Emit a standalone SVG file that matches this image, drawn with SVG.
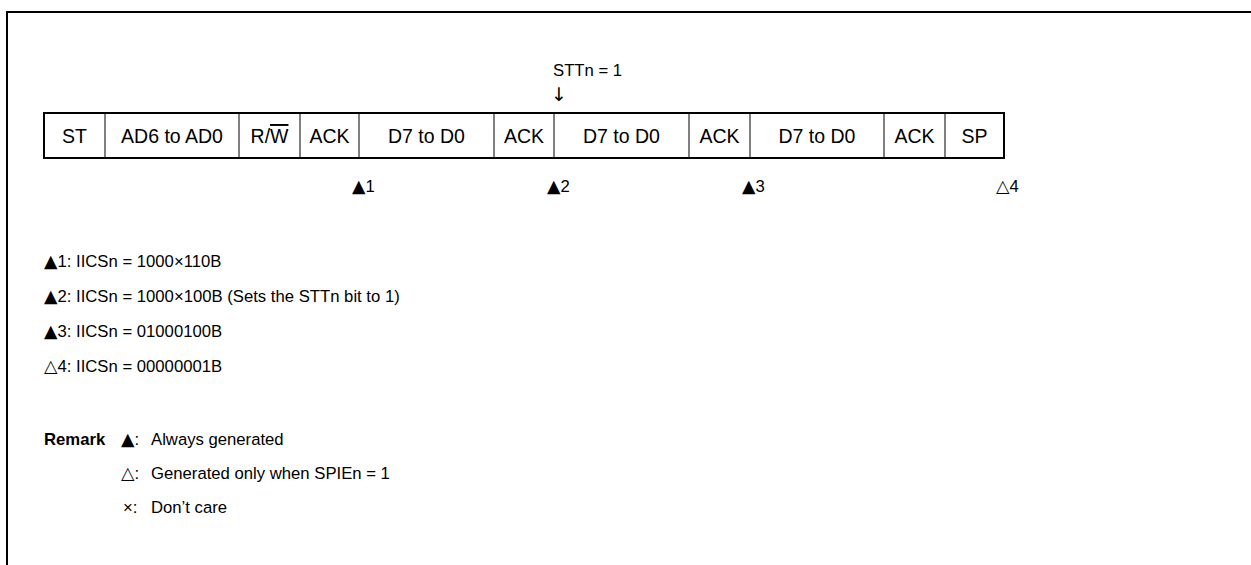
<svg xmlns="http://www.w3.org/2000/svg" width="1251" height="565" viewBox="0 0 1251 565">
<style>
text{font-family:"Liberation Sans",Arial,sans-serif;font-size:16.7px;fill:#000}
.c{text-anchor:middle}
.t{font-size:19.5px}
.b{font-weight:bold}
.tri{font-family:"DejaVu Sans",sans-serif;font-size:17.5px}
.arr{font-family:"DejaVu Sans",sans-serif;font-size:19px}
.div{stroke:#000;stroke-width:1}
.frame{fill:none;stroke:#000;stroke-width:2}
</style>
<rect width="1251" height="565" fill="#fff"/>
<g id="frame"><path class="frame" d="M7,565 V12 H1251"/></g>
<g id="note-stt">
<text x="553" y="76">STTn = 1</text>
<text class="arr" x="551" y="101">↓</text>
</g>
<g id="frame-table">
<rect x="44" y="113" width="960" height="45" fill="#fff" stroke="#000" stroke-width="2"/>
<g class="div">
<line x1="105" y1="113" x2="105" y2="158"/>
<line x1="239" y1="113" x2="239" y2="158"/>
<line x1="300" y1="113" x2="300" y2="158"/>
<line x1="359" y1="113" x2="359" y2="158"/>
<line x1="494" y1="113" x2="494" y2="158"/>
<line x1="554" y1="113" x2="554" y2="158"/>
<line x1="689" y1="113" x2="689" y2="158"/>
<line x1="750" y1="113" x2="750" y2="158"/>
<line x1="884" y1="113" x2="884" y2="158"/>
<line x1="945" y1="113" x2="945" y2="158"/>
</g>
<g>
<text class="c t" x="74.5" y="143">ST</text>
<text class="c t" x="172" y="143">AD6 to AD0</text>
<text class="c t" x="269.5" y="143">R/<tspan text-decoration="overline">W</tspan></text>
<text class="c t" x="329.5" y="143">ACK</text>
<text class="c t" x="426.5" y="143">D7 to D0</text>
<text class="c t" x="524" y="143">ACK</text>
<text class="c t" x="621.5" y="143">D7 to D0</text>
<text class="c t" x="719.5" y="143">ACK</text>
<text class="c t" x="817" y="143">D7 to D0</text>
<text class="c t" x="914.5" y="143">ACK</text>
<text class="c t" x="974.5" y="143">SP</text>
</g>
</g>
<g id="markers">
<text x="352" y="192"><tspan class="tri">▲</tspan>1</text>
<text x="547" y="192"><tspan class="tri">▲</tspan>2</text>
<text x="742" y="192"><tspan class="tri">▲</tspan>3</text>
<text x="996" y="192"><tspan class="tri">△</tspan>4</text>
</g>
<g id="legend">
<text x="44" y="267"><tspan class="tri">▲</tspan>1: IICSn = 1000×110B</text>
<text x="44" y="302"><tspan class="tri">▲</tspan>2: IICSn = 1000×100B (Sets the STTn bit to 1)</text>
<text x="44" y="337"><tspan class="tri">▲</tspan>3: IICSn = 01000100B</text>
<text x="44" y="372"><tspan class="tri">△</tspan>4: IICSn = 00000001B</text>
</g>
<g id="remark">
<text class="b" x="44" y="445">Remark</text>
<text x="121" y="445"><tspan class="tri">▲</tspan>:</text>
<text x="151" y="445">Always generated</text>
<text x="121" y="479"><tspan class="tri">△</tspan>:</text>
<text x="151" y="479">Generated only when SPIEn = 1</text>
<text x="123" y="513">×:</text>
<text x="151" y="513">Don’t care</text>
</g>
</svg>
